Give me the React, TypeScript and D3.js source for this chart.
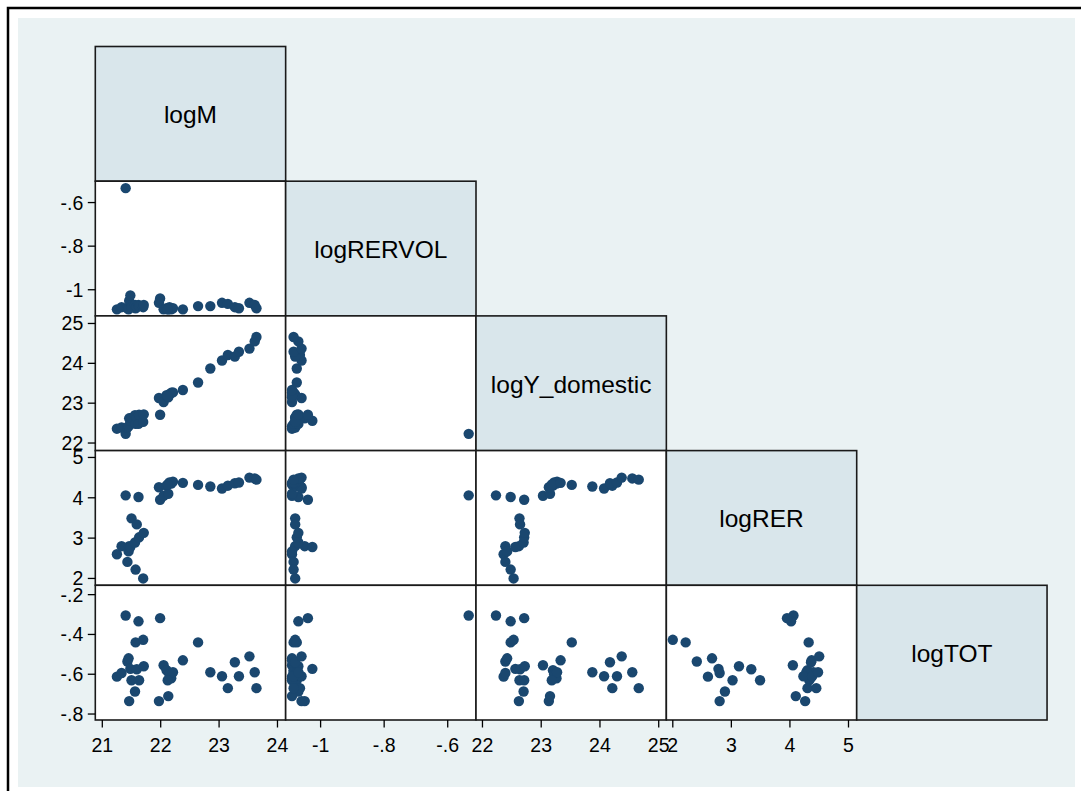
import React from "react";
import * as d3 from "d3";

const varNames = ["logM", "logRERVOL", "logY_domestic", "logRER", "logTOT"];

const logM = [21.25, 21.33, 21.40, 21.43, 21.45, 21.46, 21.48, 21.50, 21.56, 21.57, 21.59, 21.62, 21.63, 21.70, 21.71, 21.99, 21.97, 22.05, 22.10, 22.13, 22.15, 22.18, 22.21, 22.12, 22.38, 22.64, 22.85, 23.05, 23.15, 23.27, 23.34, 23.52, 23.61, 23.64];
const logRERVOL = [-1.09, -1.08, -0.534, -1.085, -1.09, -1.05, -1.026, -1.08, -1.07, -1.085, -1.08, -1.07, -1.075, -1.08, -1.07, -1.04, -1.06, -1.09, -1.085, -1.09, -1.08, -1.09, -1.085, -1.09, -1.09, -1.075, -1.075, -1.06, -1.065, -1.08, -1.085, -1.06, -1.07, -1.085];
const logY_domestic = [22.36, 22.39, 22.23, 22.39, 22.42, 22.62, 22.56, 22.63, 22.70, 22.48, 22.64, 22.48, 22.71, 22.53, 22.72, 22.71, 23.13, 23.03, 23.20, 23.15, 23.22, 23.26, 23.27, 23.18, 23.33, 23.52, 23.87, 24.07, 24.21, 24.17, 24.29, 24.37, 24.55, 24.66];
const logRER = [2.60, 2.80, 4.06, 2.41, 2.67, 2.80, 2.78, 3.49, 2.89, 2.22, 3.34, 4.02, 3.02, 2.00, 3.13, 3.95, 4.26, 4.05, 4.30, 4.10, 4.38, 4.35, 4.40, 4.33, 4.37, 4.32, 4.28, 4.23, 4.30, 4.36, 4.38, 4.50, 4.48, 4.45];
const logTOT = [-0.612, -0.594, -0.305, -0.536, -0.52, -0.735, -0.573, -0.63, -0.687, -0.44, -0.575, -0.334, -0.63, -0.427, -0.56, -0.318, -0.735, -0.555, -0.58, -0.71, -0.60, -0.62, -0.59, -0.63, -0.53, -0.44, -0.59, -0.61, -0.67, -0.54, -0.61, -0.51, -0.59, -0.67];

const seriesList = [logM, logRERVOL, logY_domestic, logRER, logTOT];

// tick values per variable (x-axis ticks for columns, y-axis ticks for rows)
const ticksLogM = [21, 22, 23, 24];
const ticksLogRERVOL = [-1, -0.8, -0.6];
const ticksLogY = [22, 23, 24, 25];
const ticksLogRER = [2, 3, 4, 5];
const ticksLogTOT = [-0.8, -0.6, -0.4, -0.2];
const tickList = [ticksLogM, ticksLogRERVOL, ticksLogY, ticksLogRER, ticksLogTOT];

// axis domains (as shown in the graph)
const xDomains: [number, number][] = [
  [20.88, 24.14],
  [-1.11, -0.511],
  [21.89, 25.13],
  [1.89, 5.14],
  [-0.83, -0.153],
];
const yDomains: [number, number][] = [
  [20.88, 24.14],
  [-1.12, -0.502],
  [21.81, 25.19],
  [1.83, 5.17],
  [-0.83, -0.153],
];

const W = 1081;
const H = 791;
const X0 = 95.3;
const Y0 = 46.5;
const CW = 190.35;
const CH = 134.7;
const FONT = "'Liberation Sans', Arial, Helvetica, sans-serif";
const MARK = "#1a476f";

function fmt(v: number): string {
  if (Number.isInteger(v)) return String(v);
  const s = String(Math.round(v * 100) / 100);
  return s.replace(/^(-?)0\./, "$1.");
}

export default function App() {
  const n = varNames.length;
  const cells: React.ReactNode[] = [];

  for (let r = 0; r < n; r++) {
    for (let c = 0; c <= r; c++) {
      const x0 = X0 + c * CW;
      const y0 = Y0 + r * CH;
      if (r === c) {
        cells.push(
          <g key={`d${r}`}>
            <rect x={x0} y={y0} width={CW} height={CH} fill="#d9e6eb" stroke="#1a1a1a" strokeWidth={1.6} />
            <text x={x0 + CW / 2} y={y0 + CH / 2 + 9.5} textAnchor="middle" fontSize={24.5} fontFamily={FONT} fill="#000">
              {varNames[r]}
            </text>
          </g>
        );
      } else {
        const xs = d3.scaleLinear().domain(xDomains[c]).range([x0, x0 + CW]);
        const ys = d3.scaleLinear().domain(yDomains[r]).range([y0 + CH, y0]);
        const xv = seriesList[c];
        const yv = seriesList[r];
        cells.push(
          <g key={`c${r}-${c}`}>
            <rect x={x0} y={y0} width={CW} height={CH} fill="#ffffff" />
            {xv.map((v, i) => (
              <circle key={i} cx={xs(v)} cy={ys(yv[i])} r={5.2} fill={MARK} />
            ))}
            <rect x={x0} y={y0} width={CW} height={CH} fill="none" stroke="#1a1a1a" strokeWidth={1.6} />
          </g>
        );
      }
    }
  }

  // y axes on left for rows 1..4
  const yAxes: React.ReactNode[] = [];
  for (let r = 1; r < n; r++) {
    const y0 = Y0 + r * CH;
    const ys = d3.scaleLinear().domain(yDomains[r]).range([y0 + CH, y0]);
    tickList[r].forEach((t, k) => {
      const yy = ys(t);
      yAxes.push(
        <g key={`ya${r}-${k}`}>
          <line x1={X0 - 7.5} x2={X0} y1={yy} y2={yy} stroke="#000" strokeWidth={1.3} />
          <text x={X0 - 12} y={yy + 7} textAnchor="end" fontSize={19.5} fontFamily={FONT} fill="#000">
            {fmt(t)}
          </text>
        </g>
      );
    });
  }

  // x axes at bottom for cols 0..3
  const xAxes: React.ReactNode[] = [];
  const yb = Y0 + n * CH;
  for (let c = 0; c < n - 1; c++) {
    const x0 = X0 + c * CW;
    const xs = d3.scaleLinear().domain(xDomains[c]).range([x0, x0 + CW]);
    tickList[c].forEach((t, k) => {
      const xx = xs(t);
      xAxes.push(
        <g key={`xa${c}-${k}`}>
          <line x1={xx} x2={xx} y1={yb} y2={yb + 7.5} stroke="#000" strokeWidth={1.3} />
          <text x={xx} y={yb + 32.3} textAnchor="middle" fontSize={19.5} fontFamily={FONT} fill="#000">
            {fmt(t)}
          </text>
        </g>
      );
    });
  }

  return (
    <div style={{ position: "absolute", left: 0, top: 0 }}>
      <svg width={W} height={H} style={{ display: "block", background: "#ffffff" }}>
        <rect x={8} y={8} width={1100} height={820} fill="#ffffff" stroke="#000" strokeWidth={2.5} />
        <rect x={18} y={18} width={1057} height={769} fill="#eaf2f3" />
        {cells}
        {yAxes}
        {xAxes}
      </svg>
    </div>
  );
}
